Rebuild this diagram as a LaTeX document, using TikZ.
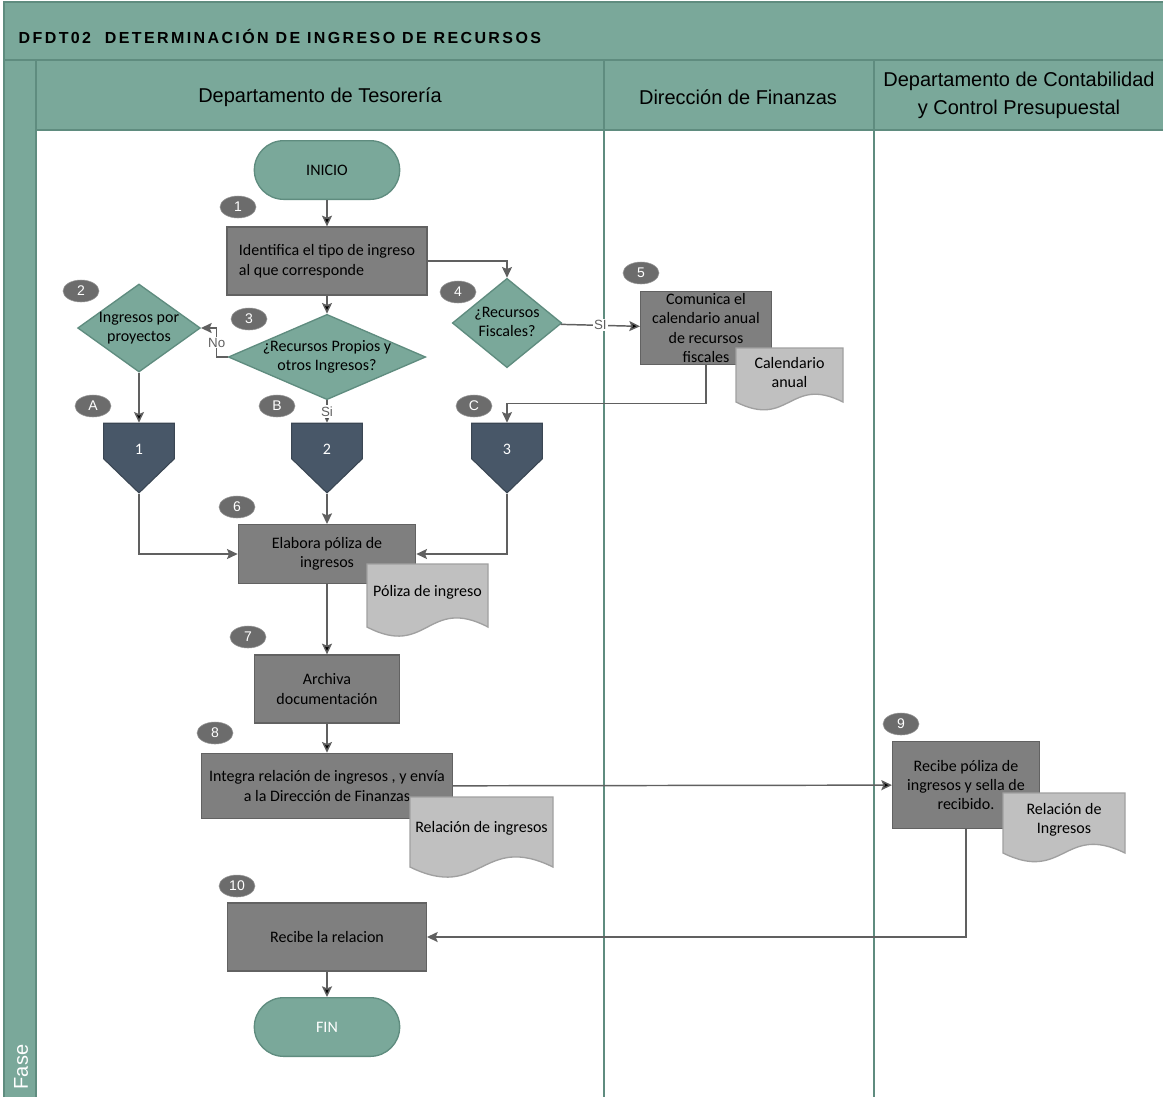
\documentclass[tikz,border=0pt]{standalone}
\usepackage{fontspec}
\setmainfont{Carlito}
\newfontfamily\headfont{Liberation Sans}
\usetikzlibrary{arrows.meta,shapes,positioning}
\definecolor{fasecol}{RGB}{122,168,154}
\definecolor{faseline}{RGB}{95,140,127}
\definecolor{boxgray}{RGB}{127,127,127}
\definecolor{boxline}{RGB}{98,98,98}
\definecolor{docgray}{RGB}{192,192,192}
\definecolor{docline}{RGB}{160,160,160}
\definecolor{badgegray}{RGB}{108,108,108}
\definecolor{offcol}{RGB}{72,87,104}
\definecolor{flowgray}{RGB}{96,96,96}
\tikzset{proc/.style={rectangle, draw=boxline, fill=boxgray, line width=1pt,
    align=center, text=black, inner sep=1pt}}
\tikzset{term/.style={rectangle, rounded corners=22pt, draw=faseline,
    fill=fasecol, line width=1pt, minimum width=109pt, minimum height=44pt}}
\tikzset{dec/.style={diamond, draw=faseline, fill=fasecol, line width=1pt,
    inner sep=0pt}}
\tikzset{badge/.style={ellipse, draw=badgegray!70, fill=badgegray,
    text=white, minimum width=27pt, minimum height=16.5pt, inner sep=0pt,
    font=\headfont\fontsize{10.5}{12}\selectfont}}
\tikzset{offpage/.style={signal, signal to=south, signal pointer angle=92,
    draw=offcol!80!black, fill=offcol, text=white, line width=.8pt,
    minimum width=53pt, minimum height=31pt, text height=20pt, text depth=0pt}}
\tikzset{flow/.style={->, draw=flowgray, line width=1.1pt}}
\tikzset{lbl/.style={fill=white, text=flowgray, inner sep=1pt,
    font=\headfont\fontsize{10}{12}\selectfont}}
\tikzset{doc/.style={draw=docline, fill=docgray, line width=1pt}}
\tikzset{doctext/.style={align=center, text=black, inner sep=0pt}}
\tikzset{lane/.style={draw=faseline, line width=1.8pt}}
% text of a decision, kept out of the diamond's size
\newcommand{\dtxt}[1]{\makebox[0pt]{\begin{tabular}{@{}c@{}}#1\end{tabular}}}
% document symbol: name, left, top, width, height, text
\newcommand{\docfig}[6]{%
  \draw[doc] (#2,#3) -- ({#2+#4},#3) -- ({#2+#4},{#3+#5})
    .. controls ({#2+0.5*#4},{#3+0.5*#5}) and ({#2+0.5*#4},{#3+1.5*#5})
    .. (#2,{#3+#5}) -- cycle;
  \node[doctext] (#1) at ({#2+#4/2},{#3+0.45*#5}) {#6};}

\begin{document}
\begin{tikzpicture}[>={Stealth[length=8pt,width=7.5pt,inset=1.5pt]},
    x=.75pt, y=-.75pt]
    \tikzstyle{every node}=[font=\fontsize{12}{14.6}\selectfont]
    \useasboundingbox (0,0) rectangle (1163,1097);
    \fill[white] (0,0) rectangle (1163,1097);
    % frame and lanes
    \fill[fasecol] (4,2) rectangle (1163,130);
    \fill[fasecol] (4,130) rectangle (36,1097);
    \draw[lane] (4,1097) -- (4,2) -- (1163,2);
    \draw[lane] (4,60) -- (1163,60);
    \draw[lane] (36,130) -- (1163,130);
    \draw[lane] (36,60) -- (36,1097);
    \draw[lane] (604,60) -- (604,1097);
    \draw[lane] (874,60) -- (874,1097);
    \node[anchor=west, font=\headfont\bfseries\fontsize{12}{14}\selectfont\addfontfeature{LetterSpace=15}]
      (title) at (14,36) {DFDT02\ \ DETERMINACIÓN DE INGRESO DE RECURSOS};
    \node[font=\headfont\fontsize{15}{21}\selectfont] (tes) at (320,97)
      {Departamento de Tesorería};
    \node[font=\headfont\fontsize{15}{21}\selectfont] (fin) at (738,97)
      {Dirección de Finanzas};
    \node[font=\headfont\fontsize{15}{21}\selectfont, align=center] (cont)
      at (1019,95) {Departamento de Contabilidad\\y Control Presupuestal};
    \node[font=\headfont\fontsize{15}{18}\selectfont, text=white, rotate=90,
      anchor=west] (fase) at (21,1094) {Fase};
    % steps
    \node[term] (ini) at (327,170) {INICIO};
    \node[badge] (b1) at (238,207) {1};
    \node[proc, minimum width=150pt, minimum height=51pt, align=left] (p1)
      at (327,261) {Identifica el tipo de ingreso\\al que corresponde};
    \node[badge] (b2) at (81,291) {2};
    \node[dec, minimum width=92pt, minimum height=66pt] (d2) at (139,328)
      {\dtxt{Ingresos por\\proyectos}};
    \node[badge] (b3) at (249,319) {3};
    \node[dec, minimum width=148pt, minimum height=64pt] (d3) at (327,357)
      {\dtxt{¿Recursos Propios y\\otros Ingresos?}};
    \node[badge] (b4) at (458,292) {4};
    \node[dec, minimum width=82pt, minimum height=67pt] (d4) at (507,323)
      {\dtxt{¿Recursos\\Fiscales?}};
    \node[badge] (b5) at (641,273) {5};
    \node[proc, minimum width=98pt, minimum height=55pt, inner ysep=0pt] (p5)
      at (706,328) {Comunica el\\calendario anual\\de recursos\\fiscales};
    \docfig{dcal}{736}{348}{107}{54}{Calendario\\anual}
    \node[badge] (ba) at (93,406) {A};
    \node[badge] (bb) at (277,406) {B};
    \node[badge] (bc) at (474,406) {C};
    \node[offpage] (c1) at (139,441) {1};
    \node[offpage] (c2) at (327,441) {2};
    \node[offpage] (c3) at (507,441) {3};
    \node[badge] (b6) at (237,507) {6};
    \node[proc, minimum width=133pt, minimum height=44pt] (p6) at (327,554)
      {Elabora póliza de\\ingresos};
    \docfig{dpol}{367}{564}{121}{63}{Póliza de ingreso}
    \node[badge] (b7) at (248,637) {7};
    \node[proc, minimum width=109pt, minimum height=51pt] (p7) at (327,689)
      {Archiva\\documentación};
    \node[badge] (b8) at (215,733) {8};
    \node[proc, minimum width=188pt, minimum height=49pt] (p8) at (327,786)
      {Integra relación de ingresos , y envía\\a la Dirección de Finanzas};
    \docfig{drel}{410}{797}{143}{70}{Relación de ingresos}
    \node[badge] (b9) at (901,724) {9};
    \node[proc, minimum width=110pt, minimum height=65pt] (p9) at (966,785)
      {Recibe póliza de\\ingresos y sella de\\recibido.};
    \docfig{drel2}{1003}{793}{122}{60}{Relación de\\Ingresos}
    \node[badge] (b10) at (237,886) {10};
    \node[proc, minimum width=149pt, minimum height=51pt] (p10) at (327,937)
      {Recibe la relacion};
    \node[term, text=white] (end) at (327,1027) {FIN};
    % connectors
    \path[flow] (ini) edge (p1);
    \path[flow] (p1) edge (d3);
    \draw[flow] (p1.east) -| (d4.north);
    \draw[flow] (d3.west) -- ++(-11,0) |- node[lbl, pos=.25] {No} (d2.east);
    \path[flow] (d2) edge (c1.north);
    \path[flow] (d3) edge node[lbl] {Si} (c2.north);
    \path[flow] (d4) edge node[lbl] {SI} (p5);
    \draw[flow] (p5.south) -- ++(0,38) -| (c3.north);
    \draw[flow] (c1.south) |- (p6.west);
    \draw[flow] (c2.south) -- (p6.north);
    \draw[flow] (c3.south) |- (p6.east);
    \path[flow] (p6) edge (p7);
    \path[flow] (p7) edge (p8);
    \path[flow] (p8) edge (p9);
    \draw[flow] (p9.south) |- (p10.east);
    \path[flow] (p10) edge (end);
\end{tikzpicture}
\end{document}
